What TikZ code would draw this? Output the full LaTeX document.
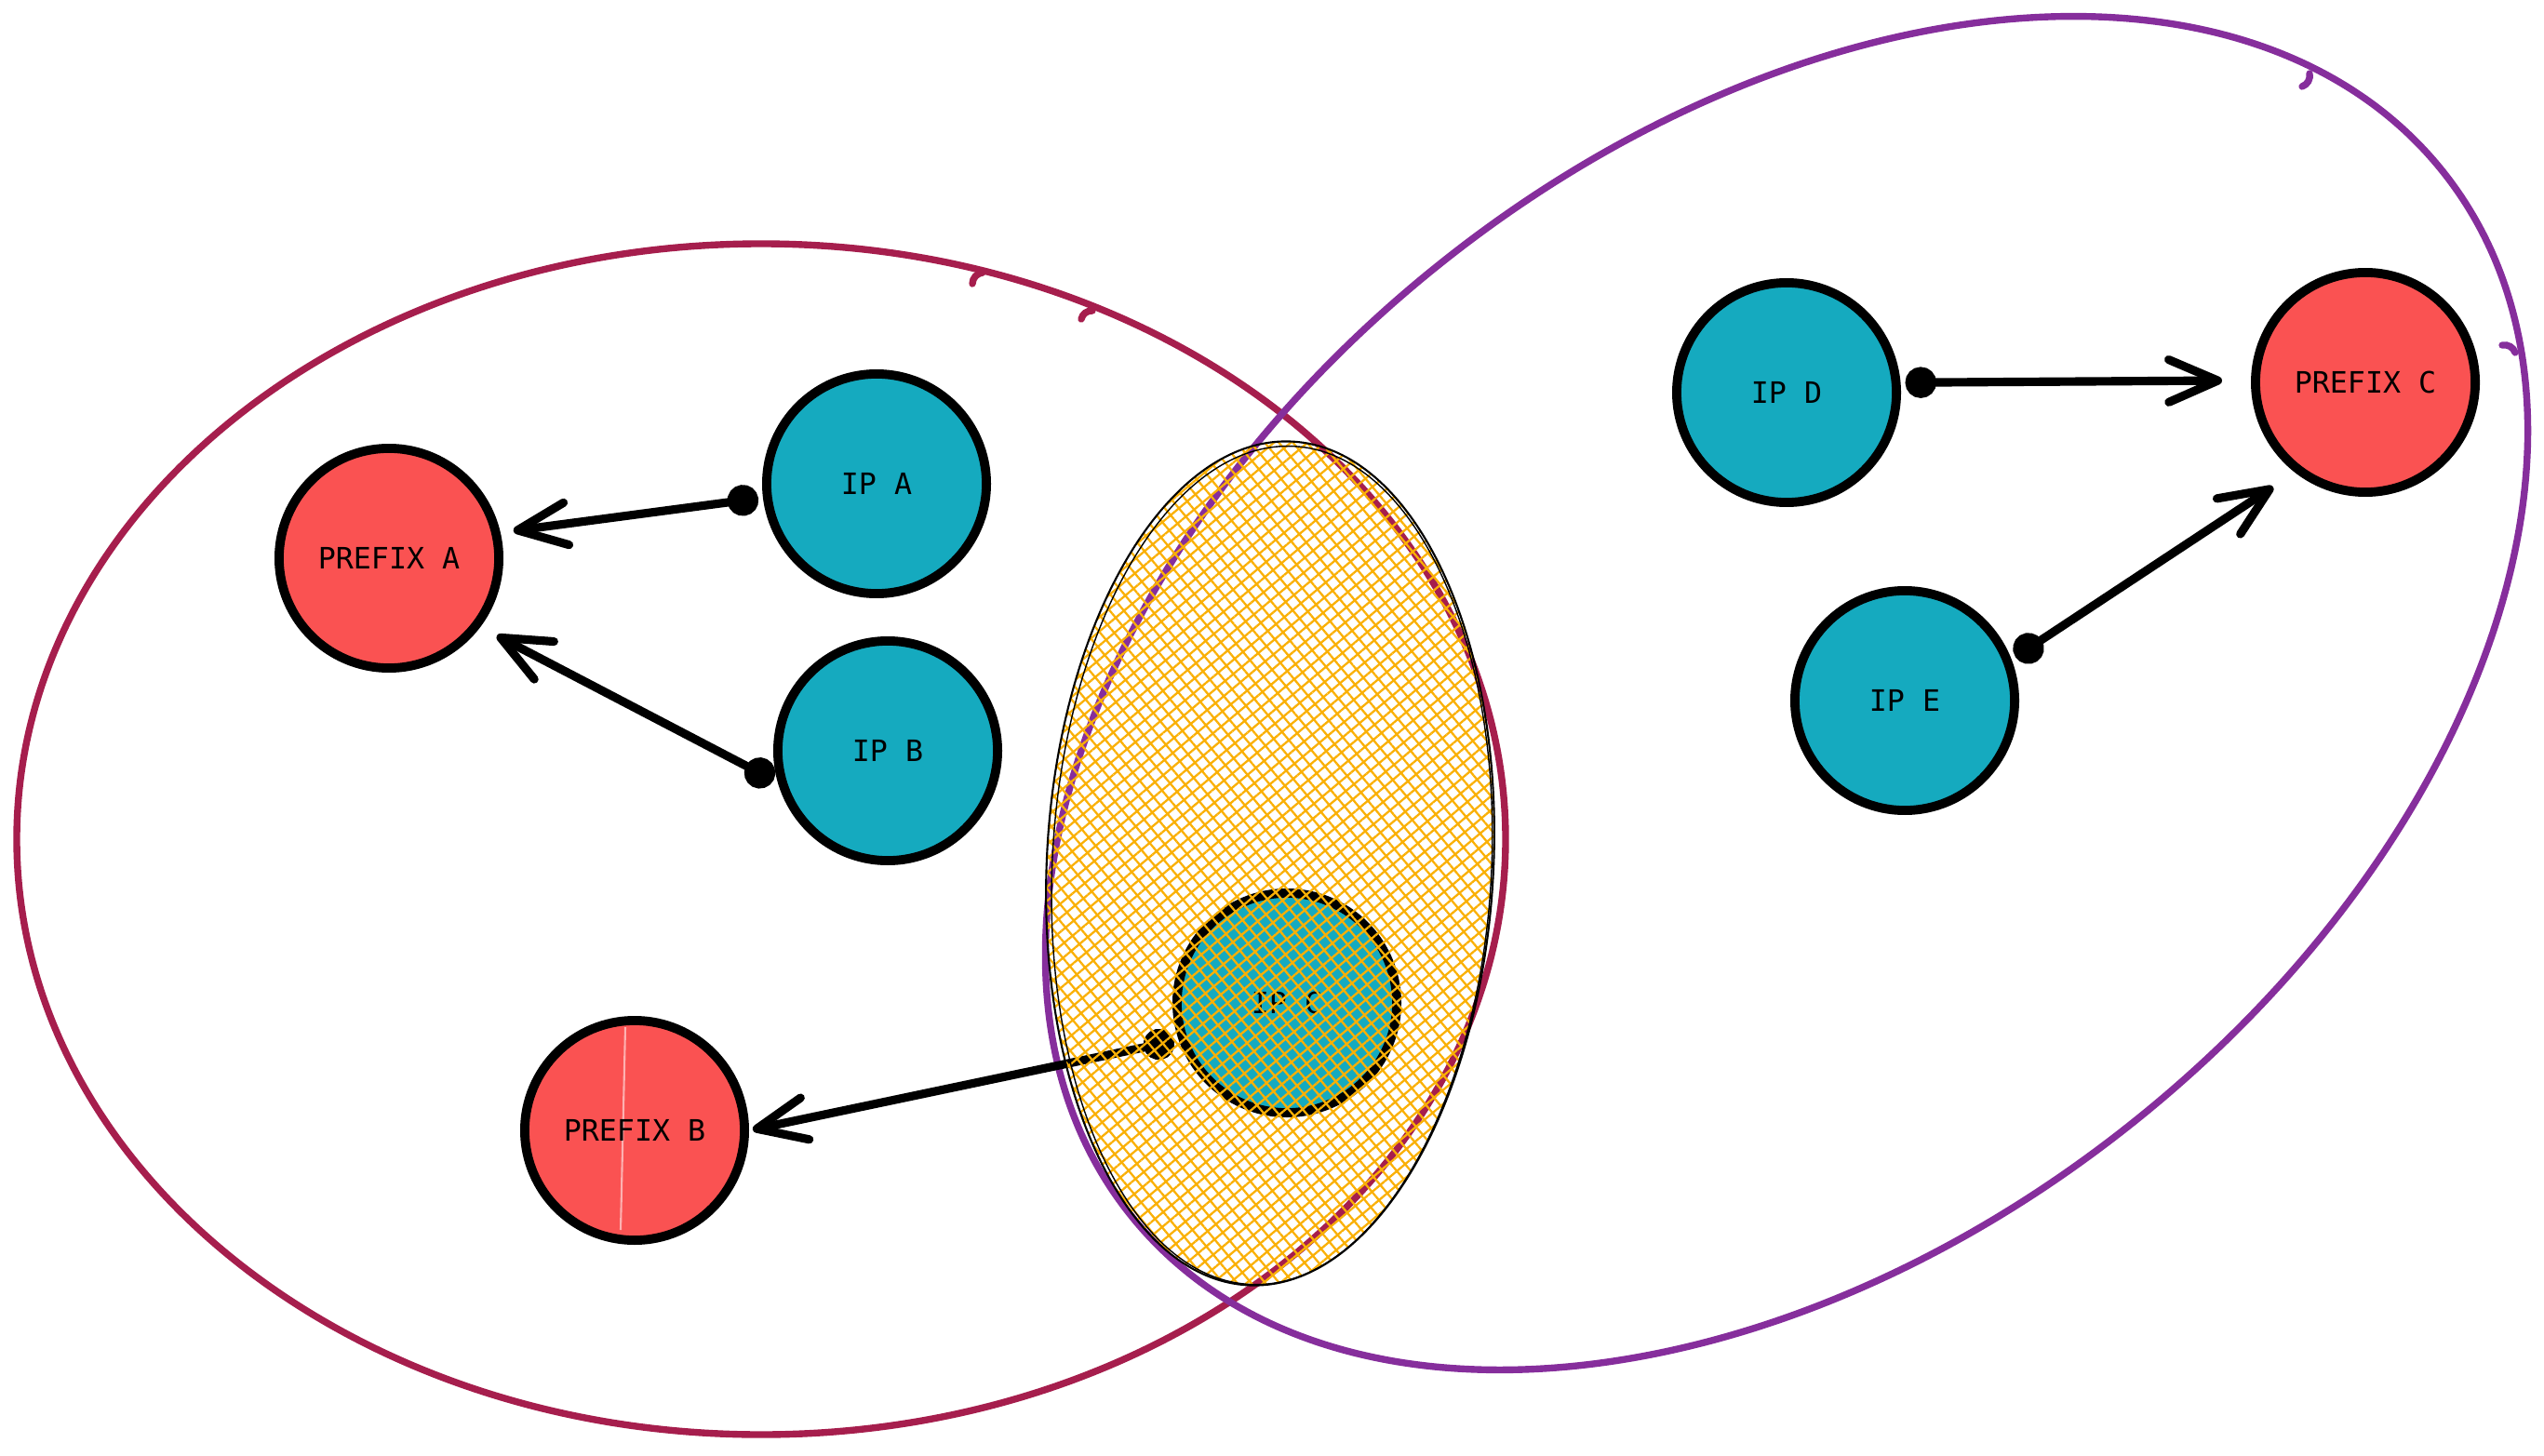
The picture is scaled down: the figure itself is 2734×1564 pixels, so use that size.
\documentclass[tikz,border=0pt]{standalone}
\usepackage{fontspec}
\newfontfamily\lblfont{DejaVu Sans Mono}
\usetikzlibrary{arrows.meta,patterns.meta}
\definecolor{redfill}{HTML}{FA5252}
\definecolor{tealfill}{HTML}{15AABF}
\definecolor{crimson}{HTML}{A61E4D}
\definecolor{grape}{HTML}{862E9C}
\definecolor{amber}{HTML}{FAB005}

\begin{document}
\begin{tikzpicture}[x=0.01cm,y=-0.01cm,
  hostnode/.style={circle,draw=black,line width=2.8pt,minimum size=2.36cm,inner sep=0pt,
    font=\lblfont\fontsize{9}{10}\selectfont},
  ipnode/.style={hostnode,fill=tealfill},
  prefixnode/.style={hostnode,fill=redfill},
  conn/.style={line width=2.6pt,line cap=round,
    {Circle[length=9.5pt]}-{Straight Barb[length=15pt,width=13pt,round]}},
  groupline/.style={line width=2.1pt,line cap=round},
  hatch/.style={pattern={Lines[angle=#1,distance=3.3pt,line width=0.65pt]},pattern color=amber}
]
\useasboundingbox (0,0) rectangle (2734,1564);

% the two overlapping groups
\draw[groupline,crimson] (818,902) ellipse [x radius=800, y radius=640];
\draw[groupline,crimson] (1045,305) to[bend left=40] (1056,293);
\draw[groupline,crimson] (1162,343) to[bend left=40] (1174,334);
\draw[groupline,grape,rotate around={38.4:(1920,745)}] (1920,745) ellipse [x radius=901, y radius=593];
\draw[groupline,grape] (2474,93) to[bend right=40] (2482,79);
\draw[groupline,grape] (2689,371) to[bend left=40] (2703,379);

% prefixes
\node[prefixnode] (prefa) at (418,600) {PREFIX A};
\node[prefixnode] (prefb) at (682,1215) {};
\node[prefixnode] (prefc) at (2542,411) {PREFIX C};
\draw[white!55!redfill,line width=0.6pt] (672,1104) -- (667,1322);
\node[font=\lblfont\fontsize{9}{10}\selectfont] at (prefb) {PREFIX B};

% addresses
\node[ipnode] (ipa) at (942,520) {IP A};
\node[ipnode] (ipb) at (954,807) {IP B};
\node[ipnode] (ipc) at (1383,1078) {IP C};
\node[ipnode] (ipd) at (1920,422) {IP D};
\node[ipnode] (ipe) at (2047,753) {IP E};

% routes
\draw[conn,shorten <=0.05cm,shorten >=0.14cm] (ipa.187) -- (prefa.13);
\draw[conn,shorten <=0.05cm,shorten >=0.2cm] (ipb.196) -- (prefa.-37);
\draw[conn,shorten <=0.05cm,shorten >=0.04cm] (ipc.199) -- (prefb.0);
\draw[conn,shorten <=0.05cm,shorten >=0.31cm] (ipd.5) -- (prefc.179);
\draw[conn,shorten <=0.05cm,shorten >=0.28cm] (ipe.21) -- (prefc.232);

% shared region, hatched over everything below it
\begin{scope}[rotate around={-3:(1365,928)}]
  \fill[hatch=40] (1365,928) ellipse [x radius=240, y radius=454];
  \fill[hatch=-50] (1365,928) ellipse [x radius=240, y radius=454];
  \draw[line width=0.6pt] (1365,928) ellipse [x radius=240, y radius=454];
  \draw[line width=0.4pt] (1367,930) ellipse [x radius=236, y radius=451];
\end{scope}
\end{tikzpicture}
\end{document}
